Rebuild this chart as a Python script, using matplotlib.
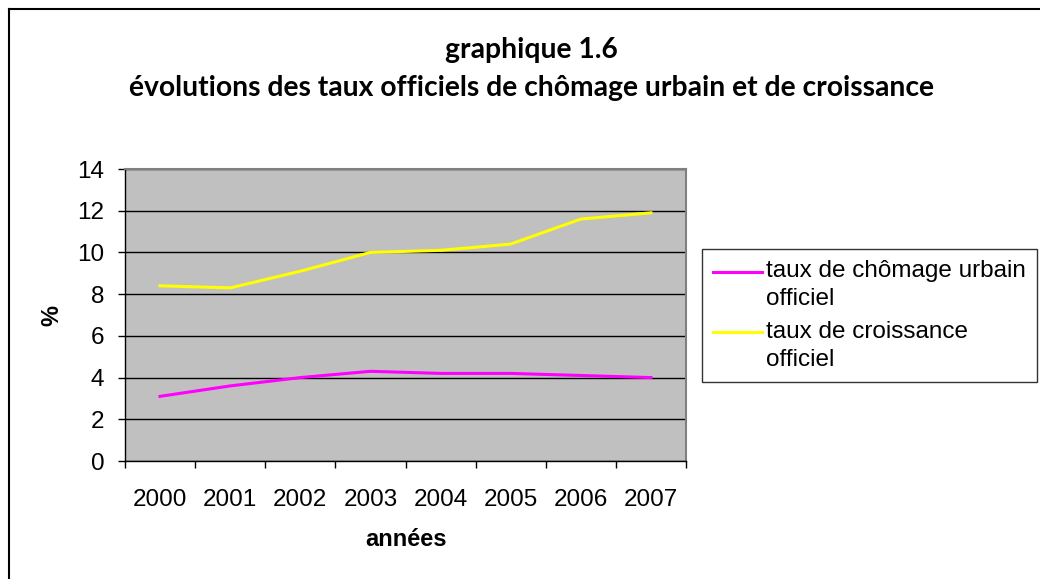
import matplotlib
matplotlib.use("Agg")
import matplotlib.pyplot as plt
from matplotlib.lines import Line2D
from matplotlib.legend_handler import HandlerLine2D
from matplotlib.ticker import FixedLocator, NullFormatter

# Data
years = ['2000', '2001', '2002', '2003', '2004', '2005', '2006', '2007']
chomage = [3.1, 3.6, 4.0, 4.3, 4.2, 4.2, 4.1, 4.0]
croissance = [8.4, 8.3, 9.1, 10.0, 10.1, 10.4, 11.6, 11.9]
label_chomage = 'taux de chômage urbain\nofficiel'
label_croissance = 'taux de croissance\nofficiel'

plt.rcParams['font.family'] = ['Liberation Sans', 'DejaVu Sans']


class FirstLineHandler(HandlerLine2D):
    # Excel puts the legend key next to the first line of a wrapped label
    def create_artists(self, legend, orig_handle, xdescent, ydescent,
                       width, height, fontsize, trans):
        artists = super().create_artists(legend, orig_handle, xdescent, ydescent,
                                         width, height, fontsize, trans)
        for a in artists:
            a.set_ydata([y + 0.55 * fontsize for y in a.get_ydata()])
        return artists


fig = plt.figure(figsize=(10.4, 5.79), dpi=100)
ax = fig.add_axes([125 / 1040, 1 - 461 / 579, 561 / 1040, 292 / 579])

x = list(range(len(years)))
l1, = ax.plot(x, chomage, color='#FF00FF', linewidth=2.2, label=label_chomage)
l2, = ax.plot(x, croissance, color='#FFFF00', linewidth=2.2, label=label_croissance)

# Excel-like plot area
ax.set_facecolor('#C0C0C0')
ax.set_xlim(-0.5, len(years) - 0.5)
ax.set_ylim(0, 14)
ax.set_yticks(range(0, 15, 2))
ax.yaxis.grid(True, color='black', linewidth=1)
ax.set_axisbelow(True)

# category labels at centres, tick marks at boundaries
ax.set_xticks(x)
ax.set_xticklabels(years)
ax.tick_params(axis='x', which='major', length=0, pad=20, labelsize=17.5)
ax.xaxis.set_minor_locator(FixedLocator([i - 0.5 for i in range(len(years) + 1)]))
ax.xaxis.set_minor_formatter(NullFormatter())
ax.tick_params(axis='x', which='minor', length=5, width=1, direction='out')
ax.tick_params(axis='y', length=5, width=1, direction='out', labelsize=17.5, pad=10)

for side in ['top', 'right']:
    ax.spines[side].set_color('#808080')
    ax.spines[side].set_linewidth(1.5)
for side in ['left', 'bottom']:
    ax.spines[side].set_color('black')
    ax.spines[side].set_linewidth(1)

ax.set_xlabel('années', fontsize=17, fontweight='bold', va='center')
ax.xaxis.set_label_coords(0.5, -(540 - 461) / 292)
ax.set_ylabel('%', fontsize=17, fontweight='bold', va='center')
ax.yaxis.set_label_coords(-(125 - 52) / 561, 0.5)

# Title (two lines)
fig.text(0.511, 1 - 50 / 579, 'graphique 1.6', ha='center', va='center',
         fontsize=20.3, fontweight='bold', family=['Lato', 'DejaVu Sans'])
fig.text(0.511, 1 - 88 / 579,
         'évolutions des taux officiels de chômage urbain et de croissance',
         ha='center', va='center', fontsize=20.3, fontweight='bold',
         family=['Lato', 'DejaVu Sans'])

# Legend box on the right
leg = ax.legend(handles=[l1, l2], loc='upper left',
                bbox_to_anchor=(702 / 1040, 1 - 249 / 579),
                bbox_transform=fig.transFigure, fontsize=17.5, frameon=True,
                fancybox=False, edgecolor='black', handlelength=2.0,
                handletextpad=0.2, borderpad=0.45, labelspacing=0.45,
                borderaxespad=0, handler_map={Line2D: FirstLineHandler()})
leg.get_frame().set_linewidth(1)
for t in leg.get_texts():
    t.set_linespacing(1.35)

# Outer chart border (left and top visible)
fig.add_artist(Line2D([9 / 1040, 9 / 1040], [-0.1, 1 - 9 / 579], color='black', linewidth=1.5))
fig.add_artist(Line2D([9 / 1040, 1.1], [1 - 9 / 579, 1 - 9 / 579], color='black', linewidth=1.5))

fig.savefig('out.png', dpi=100)
